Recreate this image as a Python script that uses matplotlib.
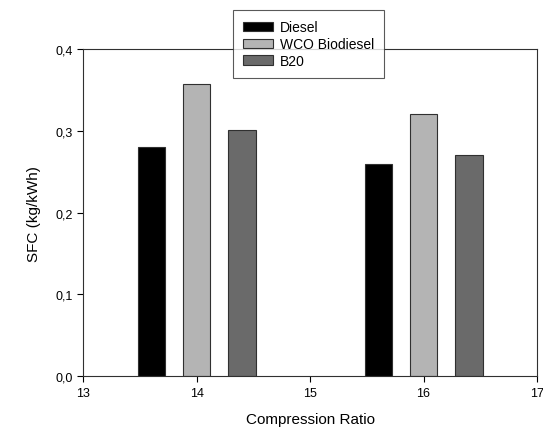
import matplotlib
matplotlib.use("Agg")
import matplotlib.pyplot as plt
import numpy as np

plt.rcParams['font.family'] = ['Liberation Sans', 'DejaVu Sans']

ratios = [14, 16]
series = ["Diesel", "WCO Biodiesel", "B20"]
diesel = [0.28, 0.26]
wco = [0.357, 0.321]
b20 = [0.301, 0.27]
colors = ["#000000", "#b4b4b4", "#6a6a6a"]
offsets = [-0.4, 0.0, 0.4]
width = 0.24

fig = plt.figure(figsize=(5.43, 4.35), dpi=100)
ax = fig.add_axes([0.153, 0.133, 0.836, 0.752])

for vals, name, c, off in zip([diesel, wco, b20], series, colors, offsets):
    ax.bar(np.array(ratios) + off, vals, width=width, color=c, edgecolor="#303030",
           linewidth=0.8, label=name)

ax.set_xlim(13, 17)
ax.set_ylim(0, 0.4)
ax.set_xticks([13, 14, 15, 16, 17])
ax.set_yticks([0.0, 0.1, 0.2, 0.3, 0.4])
ax.set_yticklabels(["0,0", "0,1", "0,2", "0,3", "0,4"])
ax.tick_params(direction="out", length=4, labelsize=9, width=0.8)
for s in ax.spines.values():
    s.set_linewidth(0.8)
    s.set_color("#303030")
ax.set_xlabel("Compression Ratio", fontsize=11, labelpad=10)
ax.set_ylabel("SFC (kg/kWh)", fontsize=11, labelpad=10)

leg = fig.legend(loc="upper left", bbox_to_anchor=(233/543, 1 - 11/435), fontsize=10,
                 frameon=True, fancybox=False, edgecolor="#303030", handlelength=2.1,
                 handleheight=0.65, borderpad=0.75, labelspacing=0.2, handletextpad=0.5,
                 borderaxespad=0)
leg.get_frame().set_linewidth(0.8)

fig.savefig("out.png", dpi=100)
